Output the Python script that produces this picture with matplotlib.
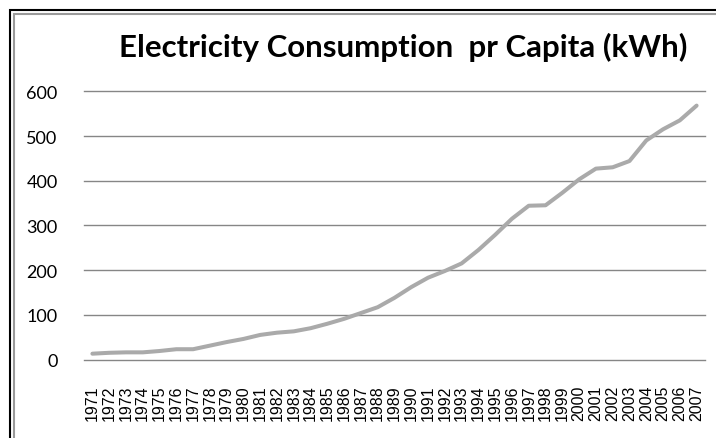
import matplotlib
matplotlib.use("Agg")
import matplotlib.pyplot as plt
from matplotlib.patches import Rectangle

# Annual electricity consumption per capita (kWh)
years = [str(y) for y in range(1971, 2008)]
consumption = [13, 15, 16, 16, 19, 23, 23, 31, 39, 46, 55, 60, 63, 70, 80,
               91, 104, 117, 138, 162, 183, 198, 215, 245, 279, 315, 344,
               345, 373, 403, 427, 430, 444, 490, 515, 535, 568]
y_ticks = [0, 100, 200, 300, 400, 500, 600]
title = "Electricity Consumption  pr Capita (kWh)"

W, H = 716, 439
fig = plt.figure(figsize=(W / 100, H / 100), dpi=100)
fig.patch.set_facecolor("white")

# Double chart frame (black outer, gray inner), running off the right/bottom edges
fig.add_artist(Rectangle((10 / W, -0.1), 1.2, 1 - 11 / H + 0.1,
                         transform=fig.transFigure, fill=False,
                         edgecolor="black", linewidth=1.5))
fig.add_artist(Rectangle((14 / W, -0.1), 1.2, 1 - 15 / H + 0.1,
                         transform=fig.transFigure, fill=False,
                         edgecolor="#9a9a9a", linewidth=1.5))

left, right = 84 / W, 705 / W
bottom, top = 1 - 360.5 / H, 1 - 92.3 / H
ax = fig.add_axes([left, bottom, right - left, top - bottom])

x = list(range(len(years)))
ax.plot(x, consumption, color="#aaaaaa", linewidth=2.9,
        solid_joinstyle="round", solid_capstyle="round", zorder=3)

ax.set_xlim(-0.5, len(years) - 0.5)
ax.set_ylim(0, 600)
ax.set_yticks(y_ticks)
ax.set_yticklabels([str(v) for v in y_ticks], fontfamily="Lato", fontsize=13)
ax.set_xticks(x)
ax.set_xticklabels(years, rotation=90, fontfamily="Liberation Sans",
                   fontsize=11.5, va="top")

for v in y_ticks:
    ax.axhline(v, color="#868686", linewidth=1.0, zorder=1, clip_on=False)

for s in ax.spines.values():
    s.set_visible(False)
ax.tick_params(axis="both", length=0)
ax.tick_params(axis="y", pad=19)
ax.tick_params(axis="x", pad=18)

fig.text(403 / W, 1 - 47 / H, title, ha="center", va="center",
         fontfamily="Lato", fontweight="bold", fontsize=22.5)

fig.savefig("out.png", dpi=100, facecolor="white")
